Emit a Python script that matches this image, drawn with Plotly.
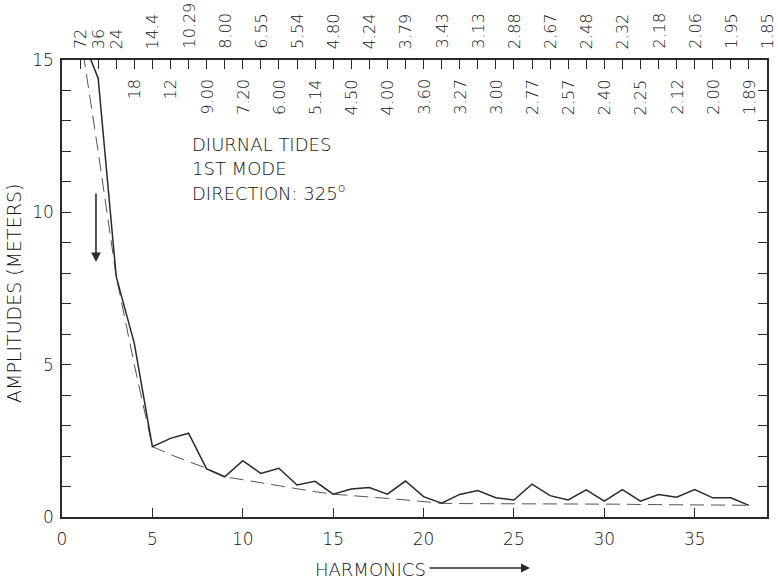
import plotly.graph_objects as go

harmonics = list(range(1, 39))
observed = [15.9, 14.4, 7.89, 5.7, 2.31, 2.58, 2.75, 1.58, 1.32, 1.85,
            1.43, 1.60, 1.05, 1.17, 0.75, 0.92, 0.97, 0.75, 1.18, 0.67,
            0.45, 0.74, 0.87, 0.63, 0.56, 1.08, 0.70, 0.56, 0.89, 0.52,
            0.90, 0.52, 0.74, 0.65, 0.90, 0.63, 0.63, 0.38]
smoothed = [15.9, 12.0, 7.9, 5.0, 2.31, 2.05, 1.82, 1.60, 1.32, 1.22,
            1.13, 1.04, 0.93, 0.83, 0.75, 0.71, 0.67, 0.61, 0.56, 0.50,
            0.45, 0.44, 0.44, 0.43, 0.43, 0.43, 0.43, 0.43, 0.42, 0.42,
            0.42, 0.41, 0.41, 0.40, 0.40, 0.39, 0.39, 0.38]
period_labels = ["72", "36", "24", "18", "14.4", "12", "10.29", "9.00", "8.00", "7.20",
                 "6.55", "6.00", "5.54", "5.14", "4.80", "4.50", "4.24", "4.00", "3.79", "3.60",
                 "3.43", "3.27", "3.13", "3.00", "2.88", "2.77", "2.67", "2.57", "2.48", "2.40",
                 "2.32", "2.25", "2.18", "2.12", "2.06", "2.00", "1.95", "1.89", "1.85"]
period_positions = list(range(1, 40))
x_ticks = [0, 5, 10, 15, 20, 25, 30, 35]
y_ticks = [0, 5, 10, 15]
y_minor = list(range(0, 16))
top_ticks = list(range(1, 39))
note_lines = ["DIURNAL TIDES", "1ST MODE", "DIRECTION: 325<sup>o</sup>"]

FONT = "DejaVu Sans"
WEIGHT = 300
INK = "#2a2a2a"
TEXT = "#111111"


def f(size):
    return dict(size=size, family=FONT, color=TEXT, weight=WEIGHT)


fig = go.Figure()
fig.add_trace(go.Scatter(x=harmonics, y=smoothed, mode="lines",
                         line=dict(color="#555", width=1, dash="14px,7px"),
                         showlegend=False, cliponaxis=True))
fig.add_trace(go.Scatter(x=harmonics, y=observed, mode="lines",
                         line=dict(color=INK, width=1.5),
                         showlegend=False, cliponaxis=True))
fig.add_trace(go.Scatter(x=[0, 39], y=[None, None], xaxis="x2", yaxis="y",
                         showlegend=False, hoverinfo="skip"))
fig.add_trace(go.Scatter(x=[None, None], y=[0, 15], xaxis="x", yaxis="y2",
                         showlegend=False, hoverinfo="skip"))

W, H = 778, 579
L, R, T, B = 62, 11, 60, 62
ph = H - T - B
pw = W - L - R

fig.update_layout(
    width=W, height=H,
    margin=dict(l=L, r=R, t=T, b=B),
    paper_bgcolor="white", plot_bgcolor="white",
    font=f(16),
    xaxis=dict(range=[0, 39], tickvals=x_ticks, ticks="inside", ticklen=9,
               tickwidth=1.2, tickcolor=INK, showline=True, linecolor=INK,
               linewidth=1.5, showgrid=False, zeroline=False,
               ticklabelstandoff=6, tickfont=f(17)),
    xaxis2=dict(range=[0, 39], overlaying="x", side="top", tickvals=top_ticks,
                ticks="inside", ticklen=9, tickwidth=1.2, tickcolor=INK,
                showticklabels=False, showline=True, linecolor=INK, linewidth=1.5,
                showgrid=False, zeroline=False),
    yaxis=dict(range=[0, 15], tickvals=y_ticks, ticks="inside", ticklen=9,
               tickwidth=1.2, tickcolor=INK, showline=True, linecolor=INK,
               linewidth=1.5, showgrid=False, zeroline=False,
               ticklabelstandoff=3, tickfont=f(17),
               minor=dict(tickvals=y_minor, ticks="inside", ticklen=9,
                          tickwidth=1.2, tickcolor=INK)),
    yaxis2=dict(range=[0, 15], overlaying="y", side="right", tickvals=y_minor,
                ticks="inside", ticklen=9, tickwidth=1.2, tickcolor=INK,
                showticklabels=False, showline=True, linecolor=INK, linewidth=1.5,
                showgrid=False, zeroline=False),
)

ann = []
for pos, lab in zip(period_positions, period_labels):
    upper = pos <= 3 or pos % 2 == 1
    if upper:
        ann.append(dict(x=pos, y=(517 - 51) / ph, xref="x", yref="paper",
                        text=lab, textangle=-90, showarrow=False,
                        xanchor="center", yanchor="bottom", font=f(16)))
    else:
        ann.append(dict(x=pos, y=(517 - 77) / ph, xref="x", yref="paper",
                        text=lab, textangle=-90, showarrow=False,
                        xanchor="center", yanchor="top", font=f(16)))

for i, line in enumerate(note_lines):
    ann.append(dict(x=(190 - L) / pw, y=(517 - (144 + 24 * i)) / ph,
                    xref="paper", yref="paper", text=line, showarrow=False,
                    xanchor="left", yanchor="middle", font=f(18)))

ann.append(dict(x=(14 - L) / pw, y=(517 - 294) / ph, xref="paper", yref="paper",
                text="AMPLITUDES (METERS)", textangle=-90, showarrow=False,
                xanchor="center", yanchor="middle", font=f(19)))
ann.append(dict(x=(428 - L) / pw, y=(517 - 569) / ph, xref="paper", yref="paper",
                text="HARMONICS", showarrow=False, xanchor="right", yanchor="middle",
                font=f(18)))
ann.append(dict(x=(530 - L) / pw, y=(517 - 568) / ph, xref="paper", yref="paper",
                ax=-102, ay=0, axref="pixel", ayref="pixel", text="", showarrow=True,
                arrowhead=2, arrowsize=1.2, arrowwidth=1.5, arrowcolor=INK))
ann.append(dict(x=1.88, y=8.37, xref="x", yref="y", ax=0, ay=-70, text="",
                showarrow=True, arrowhead=2, arrowsize=1.2, arrowwidth=1.6,
                arrowcolor=INK))

fig.update_layout(annotations=ann)
fig.write_html("out.html")
